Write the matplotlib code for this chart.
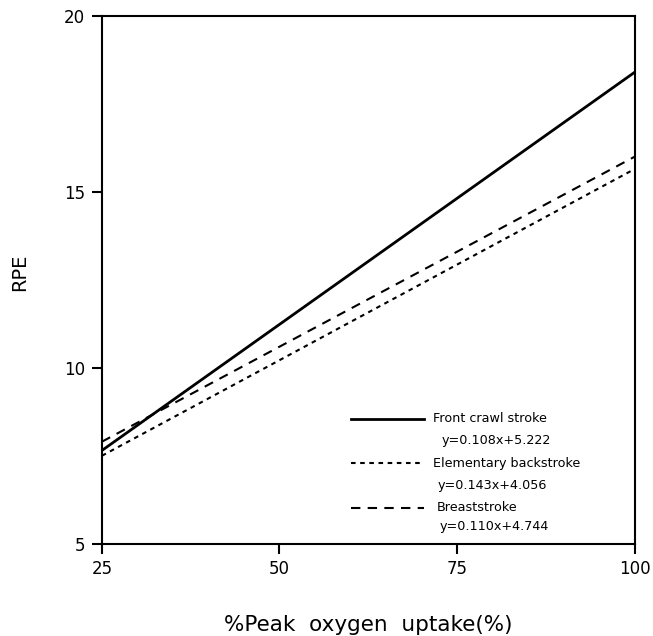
import matplotlib
matplotlib.use("Agg")
import matplotlib.pyplot as plt
from matplotlib.lines import Line2D

# endpoints (x = %peak VO2, y = RPE)
x_pct = [25, 100]
front_crawl = [7.65, 18.4]
elementary_back = [7.5, 15.65]
breaststroke = [7.9, 16.0]

names = ["Front crawl stroke", "Elementary backstroke", "Breaststroke"]
equations = ["y=0.108x+5.222", "y=0.143x+4.056", "y=0.110x+4.744"]
x_ticks = [25, 50, 75, 100]
y_ticks = [5, 10, 15, 20]

fig = plt.figure(figsize=(6.53, 6.36), dpi=100)
ax = fig.add_axes([0.156, 0.145, 0.816, 0.830])

styles = [
    dict(linestyle="-", linewidth=2.0),
    dict(linestyle=(0, (2.2, 2.2)), linewidth=1.5),
    dict(linestyle=(0, (4.5, 3.5)), linewidth=1.5),
]
series = [front_crawl, elementary_back, breaststroke]
for ys, st in zip(series, styles):
    ax.plot(x_pct, ys, color="black", solid_capstyle="butt", **st)

ax.set_xlim(25, 100)
ax.set_ylim(5, 20)
ax.set_xticks(x_ticks)
ax.set_yticks(y_ticks)
ax.tick_params(direction="out", length=7, width=1.5, labelsize=12, pad=5)
for sp in ax.spines.values():
    sp.set_linewidth(1.5)

ax.set_xlabel("%Peak  oxygen  uptake(%)", fontsize=15.5, labelpad=26)
ax.set_ylabel("RPE", fontsize=14)
ax.yaxis.set_label_coords(-0.137, 0.515)

# hand-built legend in the lower right
rows = [0.237, 0.153, 0.068]
eq_rows = [0.195, 0.110, 0.032]
text_x = [0.621, 0.621, 0.629]
eq_x = [0.638, 0.630, 0.634]
for i in range(3):
    ax.add_line(Line2D([0.467, 0.604], [rows[i], rows[i]], transform=ax.transAxes,
                       color="black", **styles[i]))
    ax.text(text_x[i], rows[i], names[i], transform=ax.transAxes,
            fontsize=9.2, va="center", ha="left")
    ax.text(eq_x[i], eq_rows[i], equations[i], transform=ax.transAxes,
            fontsize=9.2, va="center", ha="left")

fig.savefig("out.png", dpi=100)
